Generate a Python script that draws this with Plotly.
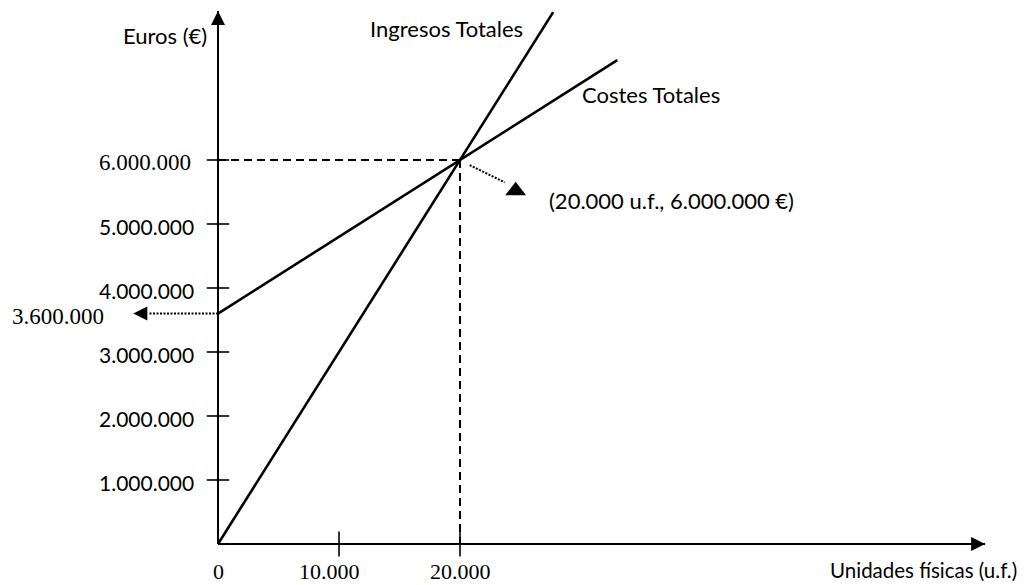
import plotly.graph_objects as go

# ---------------- data ----------------
units_ingresos = [0, 27700]
ingresos_totales = [0, 8310000]          # IT = 300 €/u.f.
units_costes = [0, 33000]
costes_totales = [3600000, 7560000]      # CT = 3.600.000 + 120 €/u.f.
break_even_units = 20000
break_even_euros = 6000000
fixed_costs = 3600000

x_tick_vals = [0, 10000, 20000]
x_tick_labels = ["0", "10.000", "20.000"]
y_tick_vals = [1000000, 2000000, 3000000, 4000000, 5000000, 6000000]
y_tick_labels = ["1.000.000", "2.000.000", "3.000.000", "4.000.000", "5.000.000", "6.000.000"]

x_axis_end = 63400
y_axis_end = 8330000

# dotted pointers
fc_pointer_x = [0, -5800]
fc_pointer_tip = -7000
be_pointer_x = [20800, 23700]
be_pointer_y = [5920000, 5650000]
be_pointer_head = (24600, 5520000)

X_RANGE = [-17355, 66777]
Y_RANGE = [-640625, 8375000]

SANS = "Lato"
SERIF = "Liberation Serif"
BLACK = "#000000"
TXT = 22
NUM = 21

fig = go.Figure()

# axes
fig.add_trace(go.Scatter(x=[0, x_axis_end], y=[0, 0], mode="lines",
                         line=dict(color=BLACK, width=2), cliponaxis=False))
fig.add_trace(go.Scatter(x=[0, 0], y=[0, y_axis_end], mode="lines",
                         line=dict(color=BLACK, width=2), cliponaxis=False))

# tick marks
fig.add_trace(go.Scatter(x=x_tick_vals[1:], y=[0] * (len(x_tick_vals) - 1), mode="markers",
                         marker=dict(symbol="line-ns", size=18, line=dict(color=BLACK, width=1.6)),
                         cliponaxis=False))
fig.add_trace(go.Scatter(x=[0] * len(y_tick_vals), y=y_tick_vals, mode="markers",
                         marker=dict(symbol="line-ew", size=16, line=dict(color=BLACK, width=1.6)),
                         cliponaxis=False))

# dashed guides to break-even point
fig.add_trace(go.Scatter(x=[0, break_even_units], y=[break_even_euros, break_even_euros], mode="lines",
                         line=dict(color=BLACK, width=2, dash="8px,5px")))
fig.add_trace(go.Scatter(x=[break_even_units, break_even_units], y=[break_even_euros, 0], mode="lines",
                         line=dict(color=BLACK, width=2, dash="8px,5px")))

# main lines
fig.add_trace(go.Scatter(x=units_ingresos, y=ingresos_totales, mode="lines",
                         line=dict(color=BLACK, width=2.6), name="Ingresos Totales"))
fig.add_trace(go.Scatter(x=units_costes, y=costes_totales, mode="lines",
                         line=dict(color=BLACK, width=2.6), name="Costes Totales"))

# dotted pointers
fig.add_trace(go.Scatter(x=fc_pointer_x, y=[fixed_costs, fixed_costs], mode="lines",
                         line=dict(color=BLACK, width=2, dash="2px,1.5px")))
fig.add_trace(go.Scatter(x=be_pointer_x, y=be_pointer_y, mode="lines",
                         line=dict(color=BLACK, width=2, dash="2px,1.5px")))
fig.add_trace(go.Scatter(x=[be_pointer_head[0]], y=[be_pointer_head[1]], mode="markers",
                         marker=dict(symbol="triangle-up", size=18, color=BLACK,
                                     line=dict(width=0)), cliponaxis=False))

annotations = []
# arrowheads
arrow_common = dict(text="", showarrow=True, arrowhead=2, arrowsize=1.4, arrowwidth=2,
                    arrowcolor=BLACK, xref="x", yref="y")
annotations.append(dict(x=x_axis_end, y=0, ax=-18, ay=0, **arrow_common))
annotations.append(dict(x=0, y=y_axis_end, ax=0, ay=18, **arrow_common))
annotations.append(dict(x=fc_pointer_tip, y=fixed_costs, ax=14, ay=0, **arrow_common))

# y tick labels
for v, t in zip(y_tick_vals, y_tick_labels):
    serif = t == "6.000.000"
    annotations.append(dict(x=0, y=v, text=t, showarrow=False, xanchor="right", yanchor="middle",
                            xshift=-25 if serif else -22, yshift=-2,
                            font=dict(family=SERIF if serif else SANS, size=23 if serif else NUM,
                                      color=BLACK)))
annotations.append(dict(x=0, y=fixed_costs, text="3.600.000", showarrow=False, xanchor="right",
                        yanchor="middle", xshift=-112, yshift=-3,
                        font=dict(family=SERIF, size=23, color=BLACK)))

# x tick labels
for v, t in zip(x_tick_vals, x_tick_labels):
    annotations.append(dict(x=v, y=0, text=t, showarrow=False, xanchor="center", yanchor="middle",
                            yshift=-27, xshift=-10 if v == 10000 else 0,
                            font=dict(family=SERIF, size=22, color=BLACK)))

# text labels
annotations.append(dict(x=0, y=7950000, text="Euros (€)", showarrow=False, xanchor="right",
                        yanchor="middle", xshift=-9, font=dict(family=SANS, size=TXT, color=BLACK)))
annotations.append(dict(x=18880, y=8060000, text="Ingresos Totales", showarrow=False,
                        xanchor="center", yanchor="middle", font=dict(family=SANS, size=TXT, color=BLACK)))
annotations.append(dict(x=35780, y=7020000, text="Costes Totales", showarrow=False,
                        xanchor="center", yanchor="middle", font=dict(family=SANS, size=TXT, color=BLACK)))
annotations.append(dict(x=37480, y=5375000, text="(20.000 u.f., 6.000.000 €)", showarrow=False,
                        xanchor="center", yanchor="middle", font=dict(family=SANS, size=TXT, color=BLACK)))
annotations.append(dict(x=66200, y=-406000, text="Unidades físicas (u.f.)", showarrow=False,
                        xanchor="right", yanchor="middle", font=dict(family=SANS, size=20.5, color=BLACK)))

fig.update_layout(
    width=1018, height=577, autosize=False,
    margin=dict(l=0, r=0, t=0, b=0),
    paper_bgcolor="white", plot_bgcolor="white",
    showlegend=False, hovermode=False,
    xaxis=dict(range=X_RANGE, visible=False, fixedrange=True),
    yaxis=dict(range=Y_RANGE, visible=False, fixedrange=True),
    annotations=annotations,
)

fig.write_html("out.html")
